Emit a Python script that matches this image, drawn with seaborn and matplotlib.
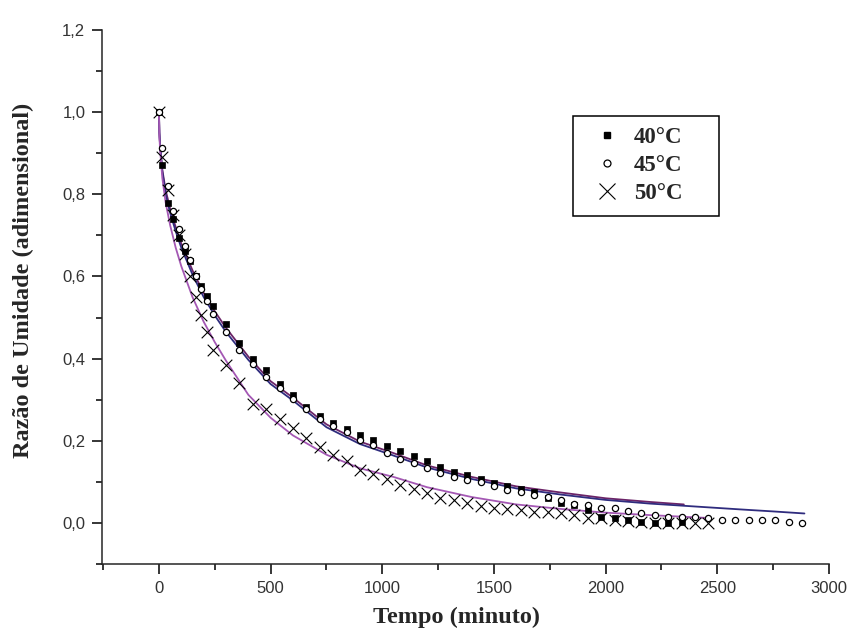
import numpy as np
import pandas as pd
import matplotlib
matplotlib.use("Agg")
import matplotlib.pyplot as plt
from matplotlib.lines import Line2D
from matplotlib.ticker import MultipleLocator, FuncFormatter
import seaborn as sns

# Experimental moisture ratio readings (time in minutes)
t_40 = [0, 15, 40, 65, 90, 115, 140, 165, 190, 215, 240, 300, 360, 420, 480, 540, 600,
        660, 720, 780, 840, 900, 960, 1020, 1080, 1140, 1200, 1260, 1320, 1380, 1440,
        1500, 1560, 1620, 1680, 1740, 1800, 1860, 1920, 1980, 2040, 2100, 2160, 2220,
        2280, 2340]
mr_40 = [1.0, 0.872, 0.779, 0.74, 0.694, 0.662, 0.638, 0.601, 0.577, 0.553, 0.528, 0.485,
         0.439, 0.400, 0.373, 0.338, 0.312, 0.283, 0.261, 0.244, 0.229, 0.215, 0.201,
         0.188, 0.176, 0.164, 0.151, 0.136, 0.124, 0.116, 0.108, 0.097, 0.089, 0.083,
         0.075, 0.061, 0.049, 0.043, 0.031, 0.015, 0.011, 0.008, 0.002, 0.0, -0.001, 0.002]

t_45 = [0, 15, 40, 65, 90, 115, 140, 165, 190, 215, 240, 300, 360, 420, 480, 540, 600,
        660, 720, 780, 840, 900, 960, 1020, 1080, 1140, 1200, 1260, 1320, 1380, 1440,
        1500, 1560, 1620, 1680, 1740, 1800, 1860, 1920, 1980, 2040, 2100, 2160, 2220,
        2280, 2340, 2400, 2460, 2520, 2580, 2640, 2700, 2760, 2820, 2880]
mr_45 = [1.0, 0.913, 0.82, 0.76, 0.715, 0.675, 0.64, 0.60, 0.57, 0.54, 0.508, 0.464,
         0.421, 0.387, 0.356, 0.329, 0.301, 0.277, 0.253, 0.237, 0.221, 0.202, 0.189,
         0.170, 0.156, 0.145, 0.134, 0.122, 0.112, 0.104, 0.099, 0.091, 0.081, 0.075,
         0.067, 0.062, 0.057, 0.047, 0.043, 0.037, 0.037, 0.029, 0.023, 0.019, 0.015,
         0.015, 0.015, 0.011, 0.008, 0.008, 0.008, 0.007, 0.007, 0.002, 0.0]

t_50 = [0, 15, 40, 65, 90, 115, 140, 165, 190, 215, 240, 300, 360, 420, 480, 540, 600,
        660, 720, 780, 840, 900, 960, 1020, 1080, 1140, 1200, 1260, 1320, 1380, 1440,
        1500, 1560, 1620, 1680, 1740, 1800, 1860, 1920, 1980, 2040, 2100, 2160, 2220,
        2280, 2340, 2400, 2460]
mr_50 = [1.0, 0.89, 0.81, 0.75, 0.70, 0.655, 0.60, 0.55, 0.505, 0.464, 0.421, 0.385,
         0.340, 0.290, 0.278, 0.253, 0.231, 0.207, 0.186, 0.165, 0.150, 0.130, 0.118,
         0.107, 0.092, 0.083, 0.072, 0.061, 0.055, 0.049, 0.041, 0.037, 0.035, 0.031,
         0.027, 0.027, 0.023, 0.019, 0.013, 0.011, 0.007, 0.005, 0.002, 0.0, 0.0, 0.0,
         -0.001, 0.0]

# Fitted drying curves
fit_t_40 = [0, 2, 5, 15, 30, 50, 75, 100, 150, 200, 250, 300, 400, 500, 600, 750, 900,
            1050, 1200, 1400, 1600, 1800, 2000, 2200, 2350]
fit_40 = [1.0, 0.95, 0.92, 0.86, 0.81, 0.765, 0.72, 0.68, 0.615, 0.56, 0.515, 0.475,
          0.405, 0.345, 0.305, 0.24, 0.198, 0.170, 0.140, 0.112, 0.089, 0.074, 0.060,
          0.051, 0.045]
fit_t_45 = [0, 2, 5, 15, 30, 50, 75, 100, 150, 200, 250, 300, 400, 500, 600, 750, 900,
            1050, 1200, 1400, 1600, 1800, 2000, 2200, 2400, 2600, 2750, 2890]
fit_45 = [1.0, 0.95, 0.92, 0.855, 0.80, 0.755, 0.71, 0.67, 0.605, 0.55, 0.505, 0.465,
          0.397, 0.338, 0.298, 0.233, 0.192, 0.164, 0.135, 0.107, 0.084, 0.069, 0.056,
          0.047, 0.040, 0.033, 0.028, 0.023]
fit_t_50 = [0, 2, 5, 15, 30, 50, 75, 100, 150, 200, 250, 300, 400, 500, 600, 750, 900,
            1050, 1200, 1400, 1600, 1800, 2000, 2200, 2350, 2460]
fit_50 = [1.0, 0.94, 0.91, 0.84, 0.78, 0.725, 0.67, 0.625, 0.55, 0.49, 0.44, 0.395,
          0.312, 0.256, 0.213, 0.166, 0.133, 0.112, 0.087, 0.063, 0.045, 0.034, 0.025,
          0.019, 0.015, 0.012]

labels = ["40°C", "45°C", "50°C"]
fit_colors = ["#6c2468", "#2f2c7e", "#a458b4"]

sns.set_theme(style="ticks")
plt.rcParams["font.family"] = ["Liberation Sans", "DejaVu Sans"]
plt.rcParams["axes.linewidth"] = 1.1

fig = plt.figure(figsize=(8.54, 6.36), dpi=100)
ax = fig.add_axes([102 / 854, 1 - 564 / 636, 727 / 854, 534 / 636])

fits = pd.concat([
    pd.DataFrame({"t": fit_t_40, "mr": fit_40, "serie": labels[0]}),
    pd.DataFrame({"t": fit_t_45, "mr": fit_45, "serie": labels[1]}),
    pd.DataFrame({"t": fit_t_50, "mr": fit_50, "serie": labels[2]}),
])
for lab, col in zip(labels, fit_colors):
    sub = fits[fits["serie"] == lab]
    sns.lineplot(data=sub, x="t", y="mr", ax=ax, color=col, lw=1.3,
                 estimator=None, sort=False, legend=False)

d40 = pd.DataFrame({"t": t_40, "mr": mr_40})
d45 = pd.DataFrame({"t": t_45, "mr": mr_45})
d50 = pd.DataFrame({"t": t_50, "mr": mr_50})

sns.scatterplot(data=d50, x="t", y="mr", ax=ax, marker="x", s=70, color="black",
                linewidth=0.8, zorder=3, legend=False)
sns.scatterplot(data=d40, x="t", y="mr", ax=ax, marker="s", s=22, color="black",
                edgecolor="black", linewidth=0.5, zorder=4, legend=False)
sns.scatterplot(data=d45, x="t", y="mr", ax=ax, marker="o", s=20, facecolor="white",
                edgecolor="black", linewidth=0.9, zorder=5, legend=False)

ax.set_xlim(-255, 3000)
ax.set_ylim(-0.1, 1.2)
ax.xaxis.set_major_locator(MultipleLocator(500))
ax.xaxis.set_minor_locator(MultipleLocator(250))
ax.yaxis.set_major_locator(MultipleLocator(0.2))
ax.yaxis.set_minor_locator(MultipleLocator(0.1))
ax.yaxis.set_major_formatter(FuncFormatter(lambda v, p: f"{v:.1f}".replace(".", ",")))
ax.xaxis.set_major_formatter(FuncFormatter(lambda v, p: f"{v:.0f}"))
ax.tick_params(which="major", length=7, width=1.1, labelsize=12, colors="black",
               labelcolor="#333333", pad=5)
ax.tick_params(which="minor", length=4, width=1.1, colors="black")
sns.despine(ax=ax)

serif_bold = dict(family=["Liberation Serif", "DejaVu Serif"], weight="bold", size=17.5)
ax.set_xlabel("Tempo (minuto)", fontdict=serif_bold)
ax.set_ylabel("Razão de Umidade (adimensional)", fontdict=serif_bold)
ax.xaxis.set_label_coords(0.487, -0.08)
ax.yaxis.set_label_coords(-0.0935, 0.532)

handles = [
    Line2D([], [], ls="none", marker="s", ms=5, mfc="black", mec="black"),
    Line2D([], [], ls="none", marker="o", ms=5, mfc="white", mec="black", mew=0.9),
    Line2D([], [], ls="none", marker="x", ms=11, mec="black", mew=0.8),
]
leg = ax.legend(handles, labels, loc="upper left",
                bbox_to_anchor=(0.648, 0.661, 0.201, 0.178), mode="expand",
                frameon=True, fancybox=False, framealpha=1, edgecolor="black",
                prop=dict(family=["Liberation Serif", "DejaVu Serif"], weight="bold", size=16.5),
                handlelength=2.0, handletextpad=0.15, borderpad=0.5, labelspacing=0.3,
                borderaxespad=0)
leg.get_frame().set_linewidth(1.1)

fig.savefig("out.png", dpi=100)
